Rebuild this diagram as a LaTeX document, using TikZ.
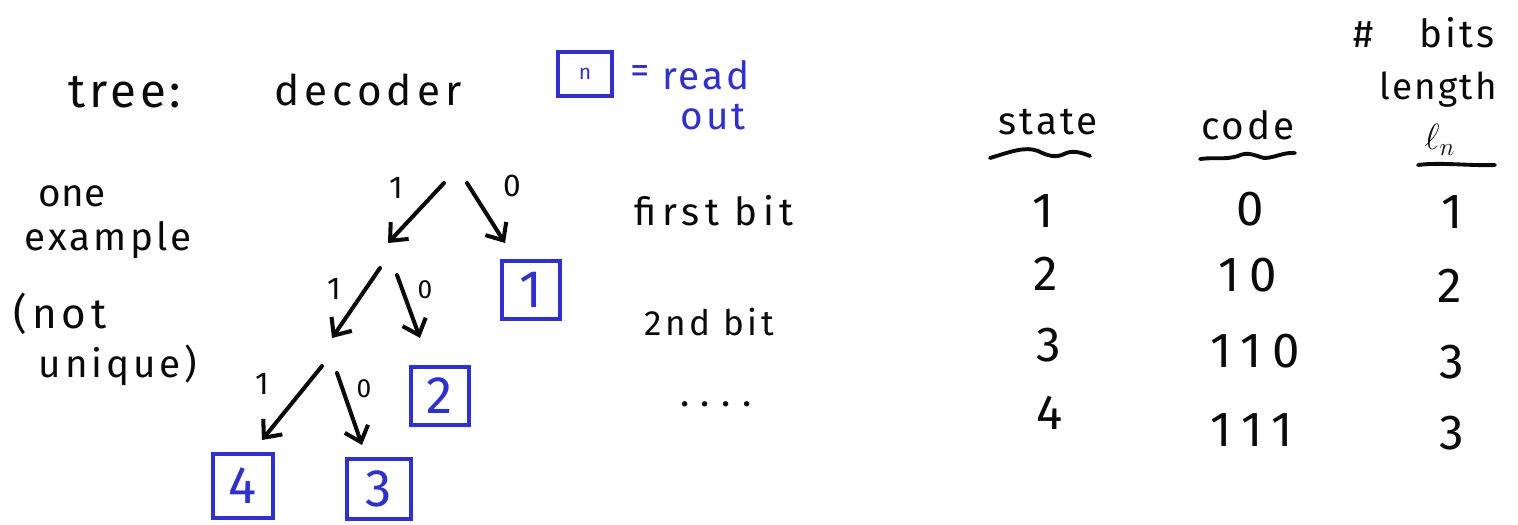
\documentclass[tikz,border=0pt]{standalone}
\usepackage{fontspec}
\setmainfont{Fira Sans}
\usetikzlibrary{arrows.meta}
\definecolor{ink}{RGB}{10,10,10}
\definecolor{penblue}{RGB}{48,48,205}
\tikzset{
  hand/.style={font=\fontsize{22}{26}\selectfont, text=ink, inner sep=0pt},
  handblue/.style={font=\fontsize{22}{26}\selectfont, text=penblue, inner sep=0pt},
  digit/.style={font=\fontsize{28}{32}\selectfont\addfontfeatures{LetterSpace=20}, text=ink, inner sep=0pt},
  lbl/.style={font=\fontsize{18}{22}\selectfont, text=ink, inner sep=0pt},
  leaf/.style={draw=penblue, line width=2.2pt, text=penblue, minimum width=58*0.2mm,
    minimum height=58*0.2mm, inner sep=0pt, font=\fontsize{30}{34}\selectfont},
  branch/.style={draw=ink, line width=2.3pt, line cap=round,
    -{Straight Barb[length=8pt, width=14pt, line width=2.3pt]}},
  uline/.style={draw=ink, line width=2.2pt, line cap=round}
}
\begin{document}
\begin{tikzpicture}[x=0.2mm, y=-0.2mm]
\useasboundingbox (0,0) rectangle (1518,524);

% heading and legend
\node[hand, font=\fontsize{27}{30}\selectfont\addfontfeatures{LetterSpace=8}] (tree) at (125,92) {tree:};
\node[hand, font=\fontsize{24}{28}\selectfont\addfontfeatures{LetterSpace=12}] (dec) at (368,90) {decoder};
\node[leaf, minimum width=54*0.2mm, minimum height=44*0.2mm, font=\fontsize{12}{14}\selectfont] (key) at (585,74) {n};
\node[handblue] (eq) at (640,74) {=};
\node[handblue, font=\fontsize{22}{26}\selectfont\addfontfeatures{LetterSpace=8}] (read) at (706,75) {read};
\node[handblue, font=\fontsize{22}{26}\selectfont\addfontfeatures{LetterSpace=8}] (out) at (713,117) {out};

% side remark
\node[hand] (one) at (72,196) {one};
\node[hand, font=\fontsize{22}{26}\selectfont\addfontfeatures{LetterSpace=8}] (ex) at (108,240) {example};
\node[hand, font=\fontsize{24}{28}\selectfont\addfontfeatures{LetterSpace=12}] (notw) at (60,314) {(not};
\node[hand, font=\fontsize{22}{26}\selectfont\addfontfeatures{LetterSpace=10}] (uniq) at (118,365) {unique)};

% leaves of the code tree
\node[leaf] (s1) at (531,290) {1};
\node[leaf] (s2) at (440,396) {2};
\node[leaf, minimum width=60*0.2mm, minimum height=64*0.2mm] (s4) at (243,486) {4};
\node[leaf, minimum width=64*0.2mm, minimum height=60*0.2mm] (s3) at (379,489) {3};

% branch points
\coordinate (r1) at (444,183);
\coordinate (r0) at (467,183);
\coordinate (a1) at (388,243);
\coordinate (a0) at (505,243);
\coordinate (b1s) at (380,268);
\coordinate (b0s) at (397,275);
\coordinate (b1) at (332,338);
\coordinate (b0) at (420,338);
\coordinate (c1s) at (322,366);
\coordinate (c0s) at (337,373);
\coordinate (c1) at (262,440);
\coordinate (c0) at (362,445);

\draw[branch] (r1) -- (a1);
\draw[branch] (r0) -- (a0);
\draw[branch] (b1s) -- (b1);
\draw[branch] (b0s) -- (b0);
\draw[branch] (c1s) -- (c1);
\draw[branch] (c0s) -- (c0);

\node[lbl] (l1a) at (396,188) {1};
\node[lbl] (l0a) at (512,186) {0};
\node[lbl] (l1b) at (334,289) {1};
\node[lbl, font=\fontsize{15}{18}\selectfont] (l0b) at (425,290) {0};
\node[lbl] (l1c) at (262,384) {1};
\node[lbl, font=\fontsize{15}{18}\selectfont] (l0c) at (364,389) {0};

% bit positions
\node[hand, font=\fontsize{22}{26}\selectfont\addfontfeatures{LetterSpace=14}] (fb) at (714,211) {first bit};
\node[hand, font=\fontsize{20}{24}\selectfont\addfontfeatures{LetterSpace=10}] (sb) at (709,322) {2nd bit};
\node[hand, font=\fontsize{22}{26}\selectfont\addfontfeatures{LetterSpace=30}] (dots) at (716,404) {....};

% table headings
\node[hand, font=\fontsize{22}{26}\selectfont\addfontfeatures{LetterSpace=8}] (hs) at (1048,122) {state};
\node[hand, font=\fontsize{22}{26}\selectfont\addfontfeatures{LetterSpace=8}] (hc) at (1248,125) {code};
\node[hand, font=\fontsize{22}{26}\selectfont\addfontfeatures{LetterSpace=8}] (hb) at (1424,33) {\#\hspace{26pt}bits};
\node[hand, font=\fontsize{21}{24}\selectfont\addfontfeatures{LetterSpace=6}] (hl) at (1438,90) {length};
\node[hand, font=\fontsize{22}{24}\selectfont] (hn) at (1440,140) {$\ell_n$};

\draw[uline] (990,158) .. controls (1010,152) and (1025,146) .. (1038,151)
  .. controls (1048,156) and (1056,158) .. (1064,154)
  .. controls (1072,150) and (1080,152) .. (1090,156);
\draw[uline] (1200,159) .. controls (1215,157) and (1225,160) .. (1238,156)
  .. controls (1248,151) and (1256,156) .. (1264,158)
  .. controls (1275,158) and (1283,152) .. (1295,153);
\draw[uline] (1418,165) .. controls (1440,162) and (1470,166) .. (1495,165);

% table rows
\node[digit] (st1) at (1043,211) {1};
\node[digit] (st2) at (1046,274) {2};
\node[digit] (st3) at (1049,345) {3};
\node[digit] (st4) at (1050,413) {4};

\node[digit] (cd1) at (1250,209) {0};
\node[digit] (cd2) at (1248,275) {10};
\node[digit] (cd3) at (1255,351) {110};
\node[digit] (cd4) at (1252,430) {111};

\node[digit] (ln1) at (1452,212) {1};
\node[digit] (ln2) at (1450,286) {2};
\node[digit] (ln3) at (1452,362) {3};
\node[digit] (ln4) at (1452,433) {3};
\end{tikzpicture}
\end{document}
